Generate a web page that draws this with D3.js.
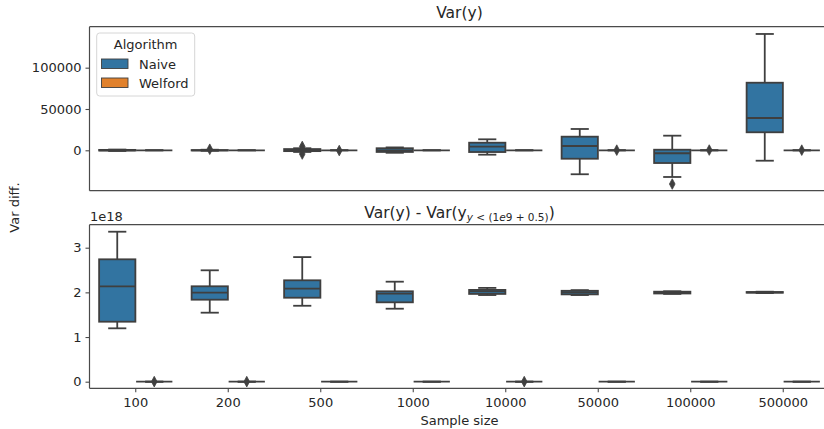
<!DOCTYPE html>
<html>
<head>
<meta charset="utf-8">
<script src="https://cdn.jsdelivr.net/npm/d3@7/dist/d3.min.js"></script>
<style>
  html, body { margin: 0; padding: 0; background: #fff; }
  svg { display: block; font-family: "DejaVu Sans", sans-serif; }
</style>
</head>
<body>
<svg id="chart" width="824" height="429"></svg>
<script>
// ---------------- DATA ----------------
const sampleSizes = ["100", "200", "500", "1000", "10000", "50000", "100000", "500000"];
const algorithms = ["Naive", "Welford"];
const algorithmColors = ["#3274a1", "#e1812c"];

// Top panel: Var(y) difference, box stats [whiskerLow, q1, median, q3, whiskerHigh]
const varNaiveStats = [
  [-800, -300, 0, 500, 900],
  [-600, -200, 0, 300, 700],
  [-2000, -1000, 200, 1500, 2500],
  [-3000, -2000, 0, 2500, 3500],
  [-5300, -2100, 4400, 9200, 13300],
  [-29000, -10200, 5200, 16500, 25800],
  [-32300, -15400, -3600, 700, 17700],
  [-12600, 21800, 39100, 81800, 140800]
];
const varNaiveOutliers = [[], [1300], [4600, -4500], [], [], [], [-40800], []];
const varWelfordStats = [
  [0, 0, 0, 0, 0], [0, 0, 0, 0, 0], [0, 0, 0, 0, 0], [0, 0, 0, 0, 0],
  [0, 0, 0, 0, 0], [0, 0, 0, 0, 0], [0, 0, 0, 0, 0], [0, 0, 0, 0, 0]
];
const varWelfordOutliers = [[], [], [-300], [], [], [200], [300], [200]];

// Bottom panel: Var(y) - Var(y | y < 1e9+0.5), values in units of 1e18
const condNaiveStats = [
  [1.195, 1.343, 2.136, 2.740, 3.358],
  [1.545, 1.836, 1.992, 2.136, 2.494],
  [1.700, 1.880, 2.082, 2.270, 2.790],
  [1.634, 1.777, 1.970, 2.024, 2.239],
  [1.940, 1.965, 2.020, 2.055, 2.100],
  [1.940, 1.955, 2.000, 2.035, 2.050],
  [1.965, 1.975, 1.990, 2.015, 2.025],
  [1.985, 1.992, 2.000, 2.008, 2.015]
];
const condNaiveOutliers = [[], [], [], [], [], [], [], []];
const condWelfordStats = [
  [0, 0, 0, 0, 0], [0, 0, 0, 0, 0], [0, 0, 0, 0, 0], [0, 0, 0, 0, 0],
  [0, 0, 0, 0, 0], [0, 0, 0, 0, 0], [0, 0, 0, 0, 0], [0, 0, 0, 0, 0]
];
const condWelfordOutliers = [[0.001], [0.001], [], [], [0.001], [], [], []];

const topTicks = [0, 50000, 100000];
const bottomTicks = [0, 1, 2, 3];

// ---------------- LAYOUT ----------------
const svg = d3.select("#chart");
const axLeft = 89.5, axRight = 829.5;
const top1 = 26.7, bot1 = 190.7;
const top2 = 224.7, bot2 = 388.3;
const lineCol = "#3f3f3f";
const textCol = "#262626";
const spineCol = "#4a4a4a";

const x = d3.scaleBand().domain(sampleSizes).range([axLeft, axRight]).padding(0);
const hue = d3.scaleBand().domain(algorithms).range([-0.4, 0.4]);
const bw = x.bandwidth();
const boxW = 0.4 * bw * 0.98;

const yTop = d3.scaleLinear().domain([-48900, 149600]).range([bot1, top1]);
const yBot = d3.scaleLinear().domain([-0.148, 3.515]).range([bot2, top2]);

function diamond(g, cx, cy) {
  g.append("path")
    .attr("d", `M${cx},${cy - 5.3} L${cx + 2.8},${cy} L${cx},${cy + 5.3} L${cx - 2.8},${cy} Z`)
    .attr("fill", lineCol).attr("stroke", lineCol).attr("stroke-width", 0.8);
}

function drawBoxes(g, y, statsByAlg, outByAlg) {
  algorithms.forEach((alg, ai) => {
    const stats = statsByAlg[ai], outs = outByAlg[ai];
    sampleSizes.forEach((s, i) => {
      const cx = x(s) + bw / 2 + (hue(alg) + hue.bandwidth() / 2) * bw;
      const [wl, q1, med, q3, wh] = stats[i];
      const gg = g.append("g");
      gg.append("line").attr("x1", cx).attr("x2", cx).attr("y1", y(q3)).attr("y2", y(wh))
        .attr("stroke", lineCol).attr("stroke-width", 1.8);
      gg.append("line").attr("x1", cx).attr("x2", cx).attr("y1", y(q1)).attr("y2", y(wl))
        .attr("stroke", lineCol).attr("stroke-width", 1.8);
      [wl, wh].forEach(v => {
        gg.append("line").attr("x1", cx - boxW / 4).attr("x2", cx + boxW / 4)
          .attr("y1", y(v)).attr("y2", y(v))
          .attr("stroke", lineCol).attr("stroke-width", 1.8);
      });
      gg.append("rect").attr("x", cx - boxW / 2).attr("width", boxW)
        .attr("y", y(q3)).attr("height", Math.max(0, y(q1) - y(q3)))
        .attr("fill", algorithmColors[ai]).attr("stroke", lineCol).attr("stroke-width", 1.8);
      gg.append("line").attr("x1", cx - boxW / 2).attr("x2", cx + boxW / 2)
        .attr("y1", y(med)).attr("y2", y(med))
        .attr("stroke", lineCol).attr("stroke-width", 1.8);
      outs[i].forEach(v => diamond(gg, cx, y(v)));
    });
  });
}

function frame(topY, botY) {
  const g = svg.append("g");
  g.append("line").attr("x1", axLeft).attr("x2", axRight).attr("y1", topY).attr("y2", topY)
    .attr("stroke", spineCol).attr("stroke-width", 1.2);
  g.append("line").attr("x1", axLeft).attr("x2", axRight).attr("y1", botY).attr("y2", botY)
    .attr("stroke", spineCol).attr("stroke-width", 1.2);
  g.append("line").attr("x1", axLeft).attr("x2", axLeft).attr("y1", topY).attr("y2", botY)
    .attr("stroke", spineCol).attr("stroke-width", 1.2);
  g.append("line").attr("x1", axRight).attr("x2", axRight).attr("y1", topY).attr("y2", botY)
    .attr("stroke", spineCol).attr("stroke-width", 1.2);
}

function styleAxis(g) {
  g.select(".domain").remove();
  g.selectAll(".tick line").attr("stroke", spineCol).attr("stroke-width", 1.1);
  g.selectAll(".tick text").attr("fill", textCol).style("font-size", "13px")
    .style("font-family", "DejaVu Sans");
}

// ---------------- TOP PANEL ----------------
const gTop = svg.append("g");
drawBoxes(gTop, yTop, [varNaiveStats, varWelfordStats], [varNaiveOutliers, varWelfordOutliers]);
frame(top1, bot1);
svg.append("g").attr("transform", `translate(${axLeft},0)`)
  .call(d3.axisLeft(yTop).tickValues(topTicks).tickSize(4).tickPadding(4).tickFormat(d3.format("d")))
  .call(styleAxis);

svg.append("text").attr("x", (axLeft + axRight) / 2).attr("y", 18)
  .attr("text-anchor", "middle").attr("fill", textCol).style("font-size", "15.5px")
  .text("Var(y)");

// legend
const lg = svg.append("g");
lg.append("rect").attr("x", 96.7).attr("y", 33).attr("width", 98).attr("height", 63)
  .attr("rx", 3).attr("fill", "#fff").attr("fill-opacity", 0.8)
  .attr("stroke", "#d6d6d6").attr("stroke-width", 1);
lg.append("text").attr("x", 145.7).attr("y", 49).attr("text-anchor", "middle")
  .attr("fill", textCol).style("font-size", "13px").text("Algorithm");
algorithms.forEach((a, i) => {
  const yy = 59 + i * 19;
  lg.append("rect").attr("x", 101.5).attr("y", yy).attr("width", 26.5).attr("height", 9.5)
    .attr("fill", algorithmColors[i]).attr("stroke", lineCol).attr("stroke-width", 0.9);
  lg.append("text").attr("x", 139).attr("y", yy + 9.5).attr("fill", textCol)
    .style("font-size", "13px").text(a);
});

// ---------------- BOTTOM PANEL ----------------
const gBot = svg.append("g");
drawBoxes(gBot, yBot, [condNaiveStats, condWelfordStats], [condNaiveOutliers, condWelfordOutliers]);
frame(top2, bot2);
svg.append("g").attr("transform", `translate(${axLeft},0)`)
  .call(d3.axisLeft(yBot).tickValues(bottomTicks).tickSize(4).tickPadding(4).tickFormat(d3.format("d")))
  .call(styleAxis);
svg.append("g").attr("transform", `translate(0,${bot2})`)
  .call(d3.axisBottom(x).tickSize(4).tickPadding(5))
  .call(g => {
    g.selectAll(".tick").attr("transform", d => `translate(${x(d) + bw / 2},0)`);
  })
  .call(styleAxis);

svg.append("text").attr("x", 90).attr("y", 221).attr("fill", textCol)
  .style("font-size", "13px").text("1e18");

const t2 = svg.append("text").attr("x", (axLeft + axRight) / 2).attr("y", 217.5)
  .attr("text-anchor", "middle").attr("fill", textCol).style("font-size", "15.5px");
t2.append("tspan").text("Var(y) - Var(y");
t2.append("tspan").attr("dy", 3.5).style("font-size", "10.5px").style("font-style", "italic").text("y");
t2.append("tspan").style("font-size", "10.5px").text(" < (1");
t2.append("tspan").style("font-size", "10.5px").style("font-style", "italic").text("e");
t2.append("tspan").style("font-size", "10.5px").text("9 + 0.5)");
t2.append("tspan").attr("dy", -3.5).text(")");

// axis labels
svg.append("text").attr("x", (axLeft + axRight) / 2).attr("y", 425)
  .attr("text-anchor", "middle").attr("fill", textCol).style("font-size", "13px")
  .text("Sample size");
svg.append("text").attr("transform", `translate(19,${(top1 + bot2) / 2}) rotate(-90)`)
  .attr("text-anchor", "middle").attr("fill", textCol).style("font-size", "13px")
  .text("Var diff.");
</script>
</body>
</html>
